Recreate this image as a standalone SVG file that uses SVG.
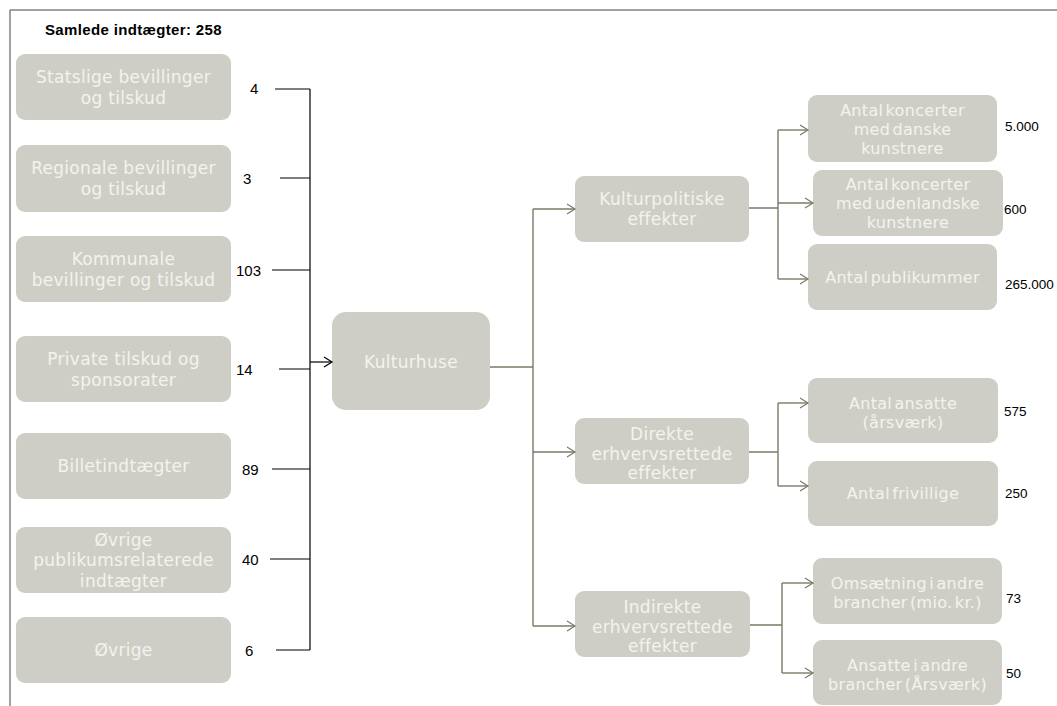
<svg xmlns="http://www.w3.org/2000/svg" width="1057" height="706" viewBox="0 0 1057 706">
<style>
.box{fill:#cfcec6}
.bt{font-family:"DejaVu Sans",sans-serif;font-size:17px;letter-spacing:0.3px;fill:#f3f3ee;text-anchor:middle}
.rt{font-family:"DejaVu Sans",sans-serif;font-size:16px;letter-spacing:0.3px;word-spacing:-3px;fill:#f3f3ee;text-anchor:middle}
.num{font-family:"Liberation Sans",Arial,sans-serif;font-size:15px;fill:#000}
.rnum{font-family:"Liberation Sans",Arial,sans-serif;font-size:13.5px;fill:#000}
.lc{stroke:#000;stroke-width:1.2;fill:none}
.rc{stroke:#7a7a68;stroke-width:1.4;fill:none}
</style>
<defs>
<marker id="ab" markerUnits="userSpaceOnUse" markerWidth="12" markerHeight="12" refX="9" refY="6" orient="auto">
<path d="M1,1 L9,6 L1,11" fill="none" stroke="#000" stroke-width="1.2"/>
</marker>
<marker id="ag" markerUnits="userSpaceOnUse" markerWidth="12" markerHeight="12" refX="9" refY="6" orient="auto">
<path d="M1,1 L9,6 L1,11" fill="none" stroke="#7a7a68" stroke-width="1.2"/>
</marker>
</defs>
<rect width="1057" height="706" fill="#fff"/>
<path d="M10,706 L10,10 L1057,10" fill="none" stroke="#444" stroke-width="1"/>
<text x="45" y="35" font-family="Liberation Sans,Arial,sans-serif" font-size="15" font-weight="bold" letter-spacing="0.35" fill="#000">Samlede indtægter: 258</text>

<g id="n-statslige"><rect class="box" x="16" y="54" width="215" height="66" rx="9"/><text class="bt" x="123.5" y="82.5">Statslige bevillinger</text><text class="bt" x="123.5" y="103.5">og tilskud</text></g>
<g id="n-regionale"><rect class="box" x="16" y="145" width="215" height="67" rx="9"/><text class="bt" x="123.5" y="174">Regionale bevillinger</text><text class="bt" x="123.5" y="195">og tilskud</text></g>
<g id="n-kommunale"><rect class="box" x="16" y="236" width="215" height="66" rx="9"/><text class="bt" x="123.5" y="264.5">Kommunale</text><text class="bt" x="123.5" y="285.5">bevillinger og tilskud</text></g>
<g id="n-private"><rect class="box" x="16" y="336" width="215" height="66" rx="9"/><text class="bt" x="123.5" y="364.5">Private tilskud og</text><text class="bt" x="123.5" y="385.5">sponsorater</text></g>
<g id="n-billet"><rect class="box" x="16" y="433" width="215" height="66" rx="9"/><text class="bt" x="123.5" y="472">Billetindtægter</text></g>
<g id="n-ovrige-pub"><rect class="box" x="16" y="527" width="215" height="66" rx="9"/><text class="bt" x="123.5" y="545.5">Øvrige</text><text class="bt" x="123.5" y="566">publikumsrelaterede</text><text class="bt" x="123.5" y="586.5">indtægter</text></g>
<g id="n-ovrige"><rect class="box" x="16" y="617" width="215" height="66" rx="9"/><text class="bt" x="123.5" y="656">Øvrige</text></g>

<g id="values-left">
<text class="num" x="250" y="94">4</text>
<text class="num" x="243" y="184">3</text>
<text class="num" x="236" y="276">103</text>
<text class="num" x="236" y="375">14</text>
<text class="num" x="242" y="475">89</text>
<text class="num" x="242" y="565">40</text>
<text class="num" x="245" y="656">6</text>
</g>

<g id="n-kulturhuse"><rect class="box" x="332" y="312" width="158" height="98" rx="14"/><text class="bt" x="411" y="368">Kulturhuse</text></g>

<g id="n-kulturpol"><rect class="box" x="575" y="176" width="174" height="66" rx="9"/><text class="bt" x="662" y="205">Kulturpolitiske</text><text class="bt" x="662" y="225">effekter</text></g>
<g id="n-direkte"><rect class="box" x="575" y="418" width="174" height="66" rx="9"/><text class="bt" x="662" y="440">Direkte</text><text class="bt" x="662" y="459.5">erhvervsrettede</text><text class="bt" x="662" y="479">effekter</text></g>
<g id="n-indirekte"><rect class="box" x="575" y="591" width="175" height="66" rx="9"/><text class="bt" x="662.5" y="613">Indirekte</text><text class="bt" x="662.5" y="632.5">erhvervsrettede</text><text class="bt" x="662.5" y="652">effekter</text></g>

<g id="n-konc-dk"><rect class="box" x="808" y="95" width="189" height="67" rx="9"/><text class="rt" x="902.5" y="116">Antal koncerter</text><text class="rt" x="902.5" y="135">med danske</text><text class="rt" x="902.5" y="154">kunstnere</text></g>
<g id="n-konc-ud"><rect class="box" x="813" y="170" width="190" height="66" rx="9"/><text class="rt" x="908" y="189.5">Antal koncerter</text><text class="rt" x="908" y="208.5">med udenlandske</text><text class="rt" x="908" y="227.5">kunstnere</text></g>
<g id="n-publikum"><rect class="box" x="808" y="244" width="189" height="66" rx="9"/><text class="rt" x="902.5" y="282.5">Antal publikummer</text></g>
<g id="n-ansatte"><rect class="box" x="808" y="378" width="190" height="65" rx="9"/><text class="rt" x="903" y="409">Antal ansatte</text><text class="rt" x="903" y="428">(årsværk)</text></g>
<g id="n-frivillige"><rect class="box" x="808" y="461" width="190" height="65" rx="9"/><text class="rt" x="903" y="499">Antal frivillige</text></g>
<g id="n-omsaetning"><rect class="box" x="813" y="558" width="189" height="66" rx="9"/><text class="rt" x="907.5" y="589">Omsætning i andre</text><text class="rt" x="907.5" y="608">brancher (mio. kr.)</text></g>
<g id="n-ansatte-andre"><rect class="box" x="813" y="640" width="189" height="65" rx="9"/><text class="rt" x="907.5" y="671">Ansatte i andre</text><text class="rt" x="907.5" y="690">brancher (Årsværk)</text></g>

<g id="values-right">
<text class="rnum" x="1005" y="131">5.000</text>
<text class="rnum" x="1004" y="214">600</text>
<text class="rnum" x="1005" y="289">265.000</text>
<text class="rnum" x="1004" y="416">575</text>
<text class="rnum" x="1005" y="498">250</text>
<text class="rnum" x="1006" y="603">73</text>
<text class="rnum" x="1006" y="678">50</text>
</g>

<g id="connectors">
<path class="lc" d="M275,89 H310 M280,178 H310 M272,270 H310 M279,369 H310 M272,469 H310 M270,559 H310 M276,650 H310 M310,89 V650"/>
<path class="lc" d="M310,362 H332" marker-end="url(#ab)"/>
<path class="rc" d="M490,367 H533 M533,209 V626"/>
<path class="rc" d="M533,209 H575" marker-end="url(#ag)"/>
<path class="rc" d="M533,452 H575" marker-end="url(#ag)"/>
<path class="rc" d="M533,626 H575" marker-end="url(#ag)"/>
<path class="rc" d="M749,208 H778 M778,130 V279"/>
<path class="rc" d="M778,130 H808" marker-end="url(#ag)"/>
<path class="rc" d="M778,203 H813" marker-end="url(#ag)"/>
<path class="rc" d="M778,279 H808" marker-end="url(#ag)"/>
<path class="rc" d="M749,452 H778 M778,403 V486"/>
<path class="rc" d="M778,403 H808" marker-end="url(#ag)"/>
<path class="rc" d="M778,486 H808" marker-end="url(#ag)"/>
<path class="rc" d="M750,625 H782 M782,583 V673"/>
<path class="rc" d="M782,583 H813" marker-end="url(#ag)"/>
<path class="rc" d="M782,673 H813" marker-end="url(#ag)"/>
</g>
</svg>
